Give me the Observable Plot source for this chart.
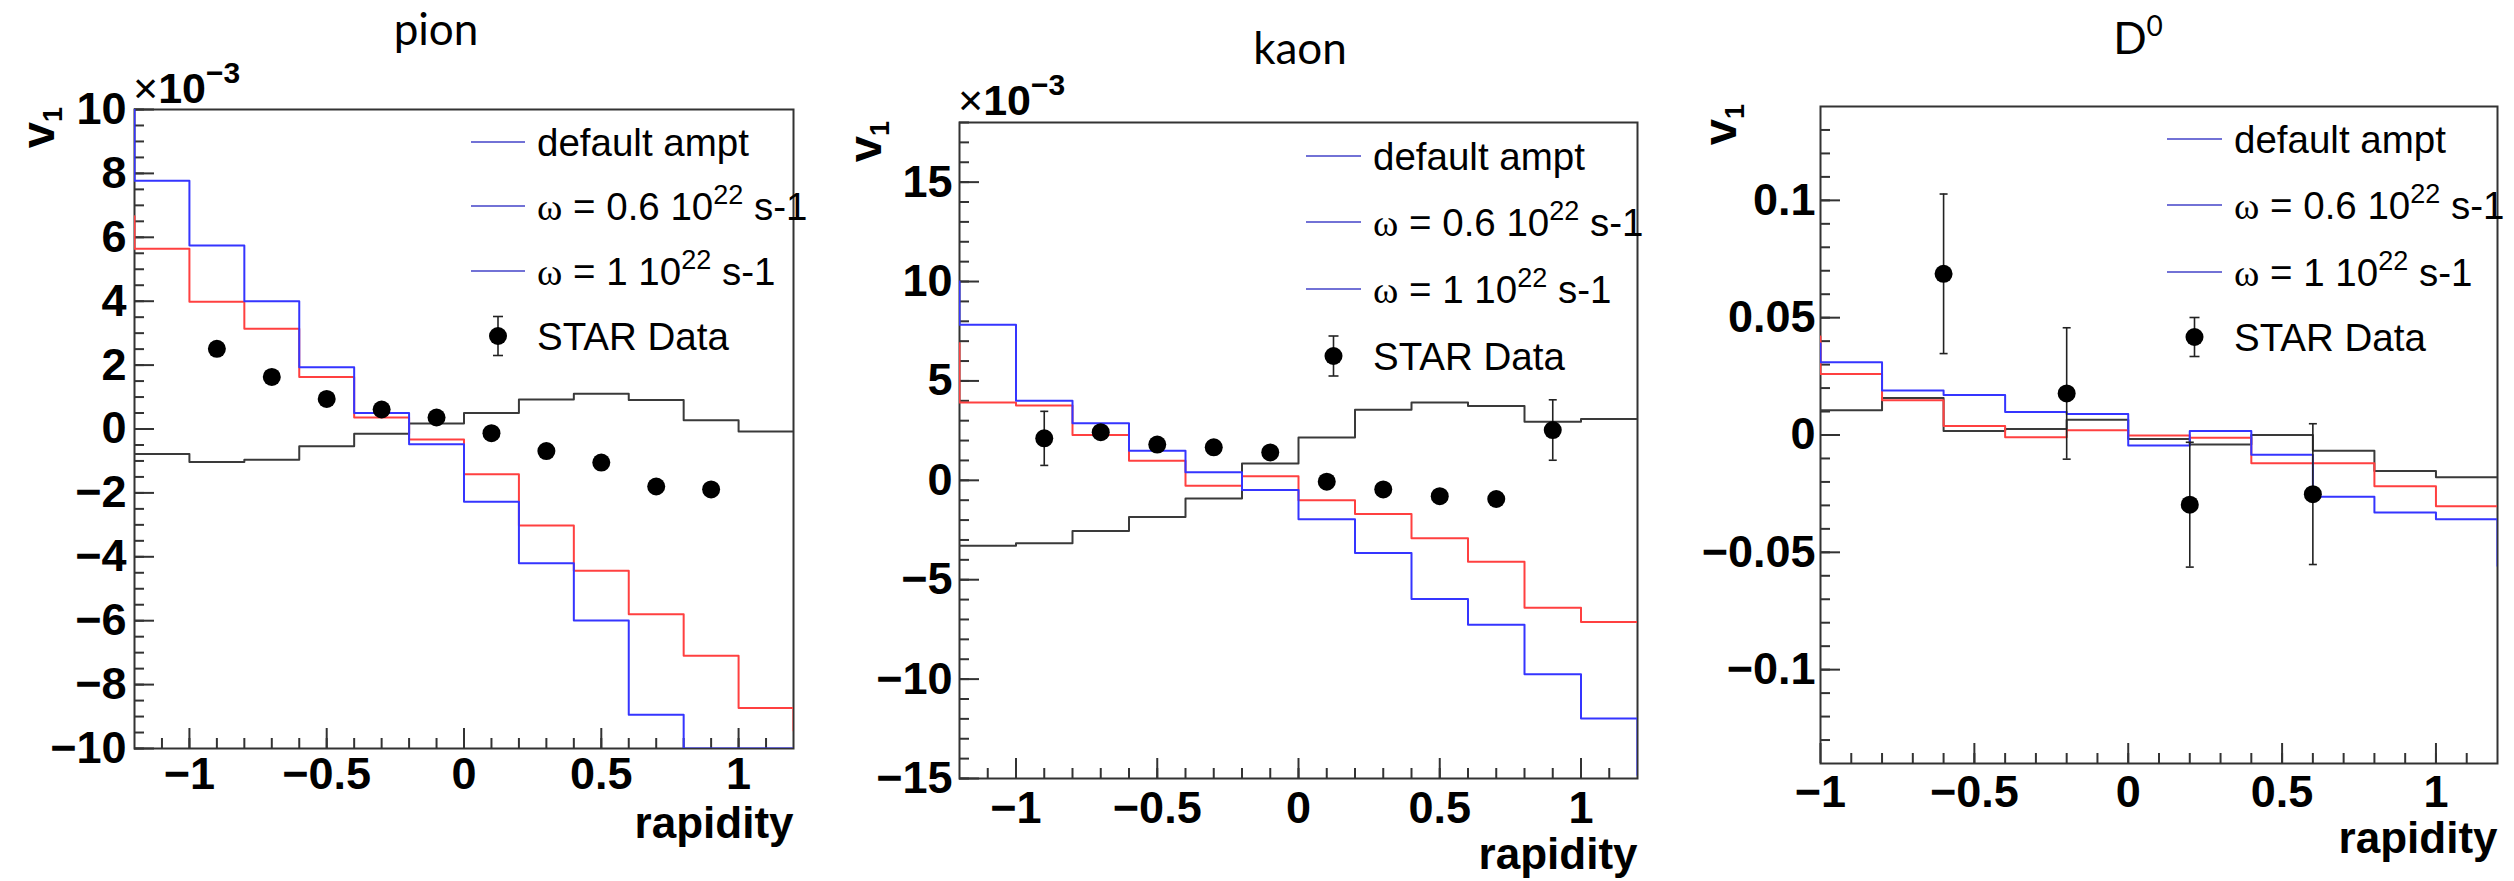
<!DOCTYPE html>
<html><head><meta charset="utf-8">
<script src="https://cdn.jsdelivr.net/npm/d3@7"></script>
<script src="https://cdn.jsdelivr.net/npm/@observablehq/plot@0.6"></script>
<style>
body{margin:0;background:#fff;}
#root{position:relative;width:2514px;height:881px;overflow:hidden;background:#fff;}
.panel{position:absolute;top:0;}
.panel svg{display:block;}
</style></head><body><div id="root"></div>
<script>
// ---------- data ----------
// pion (v1 in units of 1e-3); bins of 0.2 in rapidity, incl. one out-of-range bin each side
const pionEdges = [-1.4,-1.2,-1.0,-0.8,-0.6,-0.4,-0.2,0,0.2,0.4,0.6,0.8,1.0,1.2,1.4];
const pionBlue  = [10, 7.77, 5.74, 4.00, 1.93, 0.50, -0.48, -2.28, -4.20, -5.99, -8.94, -10, -10, -10];
const pionRed   = [6.66, 5.64, 3.98, 3.14, 1.63, 0.36, -0.33, -1.42, -3.02, -4.44, -5.80, -7.10, -8.73, -9.44];
const pionBlack = [-0.78, -0.78, -1.03, -0.96, -0.54, -0.15, 0.17, 0.50, 0.92, 1.10, 0.91, 0.27, -0.08, -0.08];
const pionStarX = [-0.9,-0.7,-0.5,-0.3,-0.1,0.1,0.3,0.5,0.7,0.9];
const pionStarV = [2.51, 1.63, 0.94, 0.61, 0.36, -0.13, -0.69, -1.05, -1.80, -1.89];
const pionStarE = [0.1, 0.1, 0.1, 0.1, 0.1, 0.1, 0.1, 0.1, 0.1, 0.1];

// kaon (v1 in units of 1e-3)
const kaonEdges = [-1.4,-1.2,-1.0,-0.8,-0.6,-0.4,-0.2,0,0.2,0.4,0.6,0.8,1.0,1.2,1.4];
const kaonBlue  = [10.0, 7.83, 4.00, 2.87, 1.49, 0.41, -0.49, -1.96, -3.65, -5.97, -7.27, -9.75, -11.98, -14.83];
const kaonRed   = [6.9, 3.91, 3.77, 2.28, 0.98, -0.27, 0.21, -1.00, -1.70, -2.92, -4.10, -6.41, -7.13, -7.13];
const kaonBlack = [-3.29, -3.29, -3.17, -2.55, -1.85, -0.91, 0.84, 2.16, 3.55, 3.91, 3.74, 2.95, 3.09, 3.09];
const kaonStarX = [-0.9,-0.7,-0.5,-0.3,-0.1,0.1,0.3,0.5,0.7,0.9];
const kaonStarV = [2.11, 2.42, 1.80, 1.66, 1.40, -0.07, -0.46, -0.80, -0.94, 2.53];
const kaonStarE = [1.36, 0.2, 0.2, 0.2, 0.2, 0.2, 0.2, 0.2, 0.2, 1.52];

// D0
const d0Edges = [-1.2,-1.0,-0.8,-0.6,-0.4,-0.2,0,0.2,0.4,0.6,0.8,1.0,1.2,1.4];
const d0Blue  = [0.039, 0.031, 0.019, 0.017, 0.0098, 0.0089, -0.0045, 0.0017, -0.0084, -0.0263, -0.033, -0.0359, -0.0558];
const d0Red   = [0.042, 0.026, 0.0148, 0.0038, -0.001, 0.002, -0.0002, -0.0012, -0.012, -0.012, -0.0218, -0.0304, -0.0304];
const d0Black = [0.0105, 0.0105, 0.0158, 0.0017, 0.0026, 0.0065, -0.0017, -0.004, 0, -0.0067, -0.0153, -0.018, -0.018];
const d0StarX = [-0.6, -0.2, 0.2, 0.6];
const d0StarV = [0.0687, 0.0177, -0.0297, -0.0252];
const d0StarE = [0.034, 0.028, 0.0266, 0.030];

// tick labels
const pionXTicks = [-1, -0.5, 0, 0.5, 1];
const pionYTicks = [-10, -8, -6, -4, -2, 0, 2, 4, 6, 8, 10];
const kaonXTicks = [-1, -0.5, 0, 0.5, 1];
const kaonYTicks = [-15, -10, -5, 0, 5, 10, 15];
const d0XTicks = [-1, -0.5, 0, 0.5, 1];
const d0YTicks = [-0.1, -0.05, 0, 0.05, 0.1];

const legendLabels = ["default ampt", "ω = 0.6 10^22 s-1", "ω = 1 10^22 s-1", "STAR Data"];

// ---------- drawing ----------
const BLUE = "#3535ff", RED = "#ff4040", BLACK = "#3a3a3a", FRAME = "#333";
const LEG = "#7272d6";
const SANS = "Liberation Sans, Arial, Helvetica, sans-serif";
const fmt = d => (d < 0 ? "\u2212" : "") + String(Math.abs(d));

function hist(edges, vals) {
  const pts = vals.map((v, i) => ({x: edges[i], y: v}));
  pts.push({x: edges[edges.length - 1], y: vals[vals.length - 1]});
  return pts;
}
const capSymbol = {draw(ctx, size) { const w = Math.sqrt(size / Math.PI); ctx.moveTo(-w, 0); ctx.lineTo(w, 0); }};

function panel(c) {
  const fw = c.width - c.ml - c.mr, fh = c.height - c.mt - c.mb;
  const star = c.starX.map((x, i) => ({x, v: c.starV[i], e: c.starE[i]}));
  const plot = Plot.plot({
    width: c.width, height: c.height,
    marginLeft: c.ml, marginRight: c.mr, marginTop: c.mt, marginBottom: c.mb,
    x: {domain: c.xDomain, axis: null},
    y: {domain: c.yDomain, axis: null},
    style: {background: "transparent", overflow: "visible"},
    marks: [
      Plot.tickX(c.xMinor, {x: d => d, insetTop: fh - 10, stroke: FRAME, strokeWidth: 2}),
      Plot.tickX(c.xTicks, {x: d => d, insetTop: fh - 20, stroke: FRAME, strokeWidth: 2}),
      Plot.tickY(c.yMinor, {y: d => d, insetRight: fw - 10, stroke: FRAME, strokeWidth: 2}),
      Plot.tickY(c.yTicks, {y: d => d, insetRight: fw - 20, stroke: FRAME, strokeWidth: 2}),
      Plot.frame({stroke: FRAME, strokeWidth: 2}),
      Plot.line(hist(c.edges, c.black), {x: "x", y: "y", curve: "step-after", stroke: BLACK, strokeWidth: 2, clip: true}),
      Plot.line(hist(c.edges, c.red), {x: "x", y: "y", curve: "step-after", stroke: RED, strokeWidth: 2, clip: true}),
      Plot.line(hist(c.edges, c.blue), {x: "x", y: "y", curve: "step-after", stroke: BLUE, strokeWidth: 2, clip: true}),
      Plot.ruleX(star, {x: "x", y1: d => d.v - d.e, y2: d => d.v + d.e, stroke: "#222", strokeWidth: 1.6}),
      Plot.dot(star, {x: "x", y: d => d.v + d.e, symbol: capSymbol, r: 4, stroke: "#222", strokeWidth: 1.6}),
      Plot.dot(star, {x: "x", y: d => d.v - d.e, symbol: capSymbol, r: 4, stroke: "#222", strokeWidth: 1.6}),
      Plot.dot(star, {x: "x", y: "v", r: 9, fill: "#000", stroke: "none"}),
      Plot.text(c.xTicks, {x: d => d, frameAnchor: "bottom", lineAnchor: "top", dy: c.xLabelDy, text: fmt,
        fontSize: 45, fontWeight: "bold", fontFamily: SANS, fill: "#000"}),
      Plot.text(c.yTicks, {y: d => d, frameAnchor: "left", textAnchor: "end", lineAnchor: "middle", dx: -c.yLabelGap, text: fmt,
        fontSize: 45, fontWeight: "bold", fontFamily: SANS, fill: "#000"}),
      Plot.text(["rapidity"], {frameAnchor: "bottom-right", textAnchor: "end", lineAnchor: "bottom", dy: c.rapDy, text: d => d,
        fontSize: 44, fontWeight: "bold", fontFamily: SANS, fill: "#000"})
    ]
  });
  const svg = d3.select(plot);
  // title
  const t = svg.append("text").attr("x", c.title.x).attr("y", c.title.y).attr("text-anchor", "middle")
    .attr("font-family", "Lato, 'Open Sans', sans-serif").attr("font-size", 44).attr("fill", "#000");
  t.append("tspan").text(c.title.text);
  if (c.title.sup) t.append("tspan").attr("font-size", 28).attr("dy", -18).text(c.title.sup);
  // v1 axis label
  const v = svg.append("text").attr("transform", `translate(${c.v1.x},${c.v1.y}) rotate(-90)`)
    .attr("text-anchor", "end").attr("font-family", SANS).attr("font-weight", "bold").attr("font-size", 47).attr("fill", "#000");
  v.append("tspan").text("v");
  v.append("tspan").attr("font-size", 27).attr("dy", 8).text("1");
  // exponent
  if (c.exp) {
    const e = svg.append("text").attr("x", c.exp.x).attr("y", c.exp.y).attr("text-anchor", "start")
      .attr("font-family", SANS).attr("font-size", 43).attr("fill", "#000");
    e.append("tspan").text("\u00d7");
    e.append("tspan").attr("font-weight", "bold").text("10");
    e.append("tspan").attr("font-weight", "bold").attr("font-size", 30).attr("dy", -20).text("\u22123");
  }
  // legend
  const L = c.legend, g = svg.append("g").attr("text-anchor", "start");
  L.rows.forEach((ry, i) => {
    g.append("line").attr("x1", L.x1).attr("x2", L.x2).attr("y1", ry).attr("y2", ry).attr("stroke", LEG).attr("stroke-width", 2);
    const tx = g.append("text").attr("x", L.tx).attr("y", ry + 13.5).attr("text-anchor", "start")
      .attr("font-family", SANS).attr("font-size", 38.5).attr("fill", "#000");
    const lab = legendLabels[i];
    if (lab.startsWith("ω")) {
      const m = lab.match(/^ω(.*)\^(\d+)(.*)$/);
      tx.append("tspan").attr("font-family", "Liberation Serif, Times New Roman, serif").text("ω");
      tx.append("tspan").text(m[1]);
      tx.append("tspan").attr("font-size", 27).attr("dy", -16).text(m[2]);
      tx.append("tspan").attr("dy", 16).text(m[3]);
    } else tx.text(lab);
  });
  const mx = (L.x1 + L.x2) / 2;
  g.append("line").attr("x1", mx).attr("x2", mx).attr("y1", L.my - L.err).attr("y2", L.my + L.err).attr("stroke", "#222").attr("stroke-width", 1.6);
  [L.my - L.err, L.my + L.err].forEach(yy => g.append("line").attr("x1", mx - 5).attr("x2", mx + 5).attr("y1", yy).attr("y2", yy).attr("stroke", "#222").attr("stroke-width", 1.6));
  g.append("text").attr("x", L.tx).attr("y", L.my + 13.5).attr("text-anchor", "start")
    .attr("font-family", SANS).attr("font-size", 38.5).attr("fill", "#000").text(legendLabels[3]);
  g.append("circle").attr("cx", mx).attr("cy", L.my).attr("r", 9).attr("fill", "#000");

  const div = document.createElement("div");
  div.className = "panel";
  div.style.left = c.left + "px";
  div.appendChild(plot);
  document.getElementById("root").appendChild(div);
}

panel({
  left: 0, width: 840, height: 881, ml: 134, mr: 47, mt: 109, mb: 133,
  xDomain: [-1.2, 1.2], yDomain: [-10, 10],
  xTicks: pionXTicks, yTicks: pionYTicks,
  xMinor: d3.range(-11, 12).map(i => i / 10), yMinor: d3.range(-20, 21).map(i => i / 2),
  edges: pionEdges, blue: pionBlue, red: pionRed, black: pionBlack,
  starX: pionStarX, starV: pionStarV, starE: pionStarE,
  xLabelDy: 9, yLabelGap: 8, rapDy: 89,
  title: {text: "pion", x: 436, y: 45},
  v1: {x: 54, y: 107}, exp: {x: 133, y: 103},
  legend: {x1: 471, x2: 525, tx: 537, rows: [142, 206, 271], my: 336, err: 19.5}
});
panel({
  left: 840, width: 840, height: 881, ml: 119, mr: 43, mt: 122, mb: 103,
  xDomain: [-1.2, 1.2], yDomain: [-15, 18],
  xTicks: kaonXTicks, yTicks: kaonYTicks,
  xMinor: d3.range(-11, 12).map(i => i / 10), yMinor: d3.range(-15, 19),
  edges: kaonEdges, blue: kaonBlue, red: kaonRed, black: kaonBlack,
  starX: kaonStarX, starV: kaonStarV, starE: kaonStarE,
  xLabelDy: 13, yLabelGap: 7, rapDy: 90,
  title: {text: "kaon", x: 460, y: 64},
  v1: {x: 41, y: 121}, exp: {x: 118, y: 115},
  legend: {x1: 466, x2: 521, tx: 533, rows: [156, 222, 289], my: 356, err: 20}
});
panel({
  left: 1680, width: 834, height: 881, ml: 140, mr: 17, mt: 106, mb: 118,
  xDomain: [-1, 1.2], yDomain: [-0.14, 0.14],
  xTicks: d0XTicks, yTicks: d0YTicks,
  xMinor: d3.range(-9, 12).map(i => i / 10), yMinor: d3.range(-13, 14).map(i => i / 100),
  edges: d0Edges, blue: d0Blue, red: d0Red, black: d0Black,
  starX: d0StarX, starV: d0StarV, starE: d0StarE,
  xLabelDy: 12, yLabelGap: 5, rapDy: 89,
  title: {text: "D", sup: "0", x: 458, y: 54},
  v1: {x: 56, y: 104}, exp: null,
  legend: {x1: 487, x2: 542, tx: 554, rows: [139, 205, 272], my: 337, err: 19.5}
});
</script></body></html>
